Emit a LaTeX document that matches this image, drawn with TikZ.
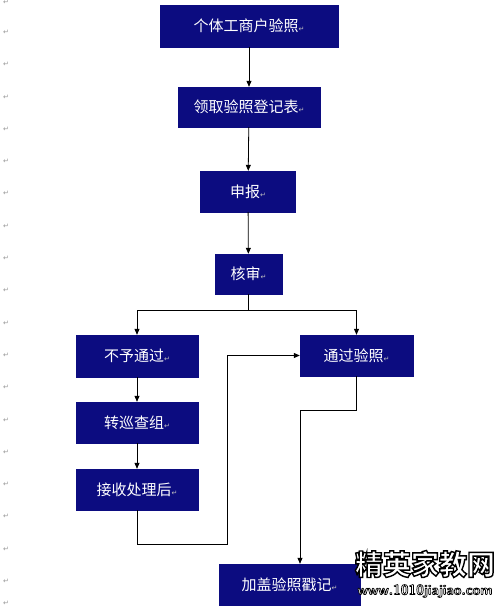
\documentclass[tikz,border=0pt]{standalone}
\usepackage{fontspec}
\usetikzlibrary{arrows.meta,calc}
\newfontfamily\cjk{Noto Sans CJK SC}
\newfontfamily\djv{DejaVu Sans}
\definecolor{boxblue}{RGB}{12,12,128}
\definecolor{retgray}{RGB}{150,150,150}
\newcommand{\retmk}{{\djv\fontsize{7}{7}\selectfont\color{retgray!60!white}↵}}
\newcommand{\outlinetext}[2]{{\color{white}\special{pdf:literal direct 0 0 0 RG #1 w 2 Tr}#2\special{pdf:literal direct 0 Tr}}}
\tikzset{
  flowbox/.style={draw=boxblue, fill=boxblue, text=white, inner sep=0pt,
    font=\cjk\fontsize{15}{15}\selectfont, anchor=center},
  arr/.style={draw=black, line width=0.8pt, -{Triangle[length=6pt,width=5pt]}},
  plain/.style={draw=black, line width=0.8pt},
  retmark/.style={inner sep=0pt, font=\djv\fontsize{7}{7}\selectfont, text=retgray}
}
\begin{document}
\begin{tikzpicture}[x=1pt,y=-1pt]
\useasboundingbox (0,0) rectangle (500,608);
\fill[white] (0,0) rectangle (500,608);
% margin paragraph marks
\node[retmark] (m0) at (6,2) {↵};
\foreach \i in {1,...,18} {\node[retmark] (m\i) at (6,32.3*\i) {↵};}
\node[retmark] (m19) at (6,603) {↵};
% boxes
\node[flowbox, minimum width=178pt, minimum height=42pt] (b1) at (249,26) {个体工商户验照\retmk};
\node[flowbox, minimum width=142pt, minimum height=40pt] (b2) at (249,107) {领取验照登记表\retmk};
\node[flowbox, minimum width=95pt, minimum height=41pt] (b3) at (248,191.5) {申报\retmk};
\node[flowbox, minimum width=67pt, minimum height=40pt] (b4) at (248.5,274) {核审\retmk};
\node[flowbox, minimum width=122pt, minimum height=42pt] (b5) at (137,356) {不予通过\retmk};
\node[flowbox, minimum width=113pt, minimum height=41pt] (b6) at (356.5,355.5) {通过验照\retmk};
\node[flowbox, minimum width=122pt, minimum height=41pt] (b7) at (137,422.5) {转巡查组\retmk};
\node[flowbox, minimum width=122pt, minimum height=41pt] (b8) at (137,489.5) {接收处理后\retmk};
\node[flowbox, minimum width=141pt, minimum height=41pt] (b9) at (289.5,584.5) {加盖验照戳记\retmk};
% helper coordinates
\coordinate (split) at (248.5,310);
\coordinate (c1) at (227,544);
\coordinate (c2) at (300,410);
% connectors
\draw[arr] (b1) -- (b2);
\draw[arr] (b2) -- (b3);
\draw[arr] (b3) -- (b4);
\draw[plain] (b4.south) -- (split);
\draw[arr] (split) -| (b5.north);
\draw[arr] (split) -| (b6.north);
\draw[arr] (b5) -- (b7);
\draw[arr] (b7) -- (b8);
\draw[arr] (b8.south) |- (c1) |- (b6.west);
\draw[arr] (b6.south) |- (c2) -- (c2 |- b9.north);
% watermark
\node[inner sep=0pt, font=\cjk\bfseries\fontsize{28}{28}\selectfont] (wm1) at (425,564) {\outlinetext{1.4}{精英家教网}};
\node[inner sep=0pt, font=\sffamily\bfseries\fontsize{14}{14}\selectfont] (wm2) at (425,591) {\outlinetext{0.7}{www.1010jiajiao.com}};
\end{tikzpicture}
\end{document}
